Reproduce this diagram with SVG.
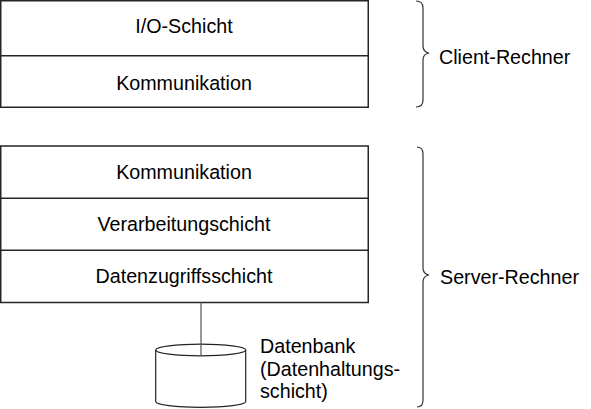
<svg xmlns="http://www.w3.org/2000/svg" width="591" height="409" viewBox="0 0 591 409">
<style>
.box{fill:#fff;stroke:#262626;stroke-width:1.5}
.ln{fill:none;stroke:#262626;stroke-width:1.5}
.br{fill:none;stroke:#333;stroke-width:1.2}
.t{font-family:"Liberation Sans",Arial,sans-serif;font-size:19.7px;fill:#000}
.c{text-anchor:middle}
</style>
<rect width="591" height="409" fill="#fff"/>
<g id="client">
<rect class="box" x="0.75" y="0.75" width="367.5" height="106.5"/>
<line class="ln" x1="0.75" y1="55.75" x2="368.25" y2="55.75"/>
<text class="t c" x="184" y="32.7">I/O-Schicht</text>
<text class="t c" x="184" y="90">Kommunikation</text>
</g>
<g id="server">
<rect class="box" x="0.75" y="146" width="367.5" height="156.5"/>
<line class="ln" x1="0.75" y1="198.25" x2="368.25" y2="198.25"/>
<line class="ln" x1="0.75" y1="250.25" x2="368.25" y2="250.25"/>
<text class="t c" x="184" y="179">Kommunikation</text>
<text class="t c" x="184" y="231">Verarbeitungschicht</text>
<text class="t c" x="184" y="283.3">Datenzugriffsschicht</text>
</g>
<g id="datenbank">
<path d="M155.7,350 L155.7,401.5 A45,5.8 0 0 0 245.7,401.5 L245.7,350" fill="#fff" stroke="#222" stroke-width="1.2"/>
<ellipse cx="200.7" cy="350" rx="45" ry="5.8" fill="none" stroke="#222" stroke-width="1.2"/>
<text class="t" x="260" y="352.7">Datenbank</text>
<text class="t" x="260" y="375.7">(Datenhaltungs-</text>
<text class="t" x="260" y="398.3">schicht)</text>
</g>
<g id="connectors">
<line x1="201" y1="302.5" x2="201" y2="355" stroke="#555" stroke-width="1.2"/>
</g>
<g id="client-brace">
<path class="br" d="M416,1 Q423,1 423,8 L423,46 Q423,52 429,53 Q423,54 423,60 L423,100 Q423,107 416,107"/>
<text class="t" x="439" y="64">Client-Rechner</text>
</g>
<g id="server-brace">
<path class="br" d="M417,147 Q423,147 423,154 L423,268 Q423,274 429,275 Q423,276 423,282 L423,400 Q423,407 417,407"/>
<text class="t" x="440" y="284">Server-Rechner</text>
</g>
</svg>
